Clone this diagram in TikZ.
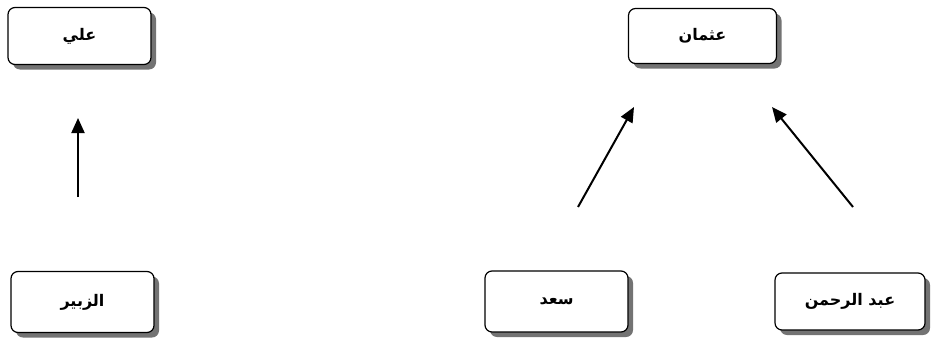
\documentclass[tikz,border=0pt]{standalone}
\usepackage{fontspec}
\TeXXeTstate=1
\newfontfamily\arabicfont[Script=Arabic]{DejaVu Sans}
\usetikzlibrary{arrows.meta,shadows}
\begin{document}
\begin{tikzpicture}[x=1pt,y=-1pt,
  boxnode/.style={draw=black, line width=1.2pt, rounded corners=7pt, fill=white,
    minimum width=143pt, minimum height=57pt,
    drop shadow={shadow xshift=5pt, shadow yshift=-5pt, fill=black!55, opacity=1},
    font=\arabicfont\bfseries\fontsize{16}{18}\selectfont},
  arr/.style={line width=2pt, -{Triangle[length=15pt,width=13pt]}}]
\useasboundingbox (0,0) rectangle (933,340);
\node[boxnode] (ali) at (79.5,36) {\beginR علي\endR};
\node[boxnode, minimum width=148pt, minimum height=55pt] (uthman) at (702.5,36) {\beginR عثمان\endR};
\node[boxnode, minimum height=61pt] (zubair) at (82.5,302) {\beginR الزبير\endR};
\node[boxnode, minimum height=61pt] (saad) at (556.5,301.5) {\beginR سعد\endR};
\node[boxnode, minimum width=150pt] (abd) at (850,301.5) {\beginR عبد الرحمن\endR};
\coordinate (a1s) at (78,197);
\coordinate (a1e) at (78,118);
\coordinate (a2s) at (578,207);
\coordinate (a2e) at (634,107);
\coordinate (a3s) at (853,207);
\coordinate (a3e) at (772,107);
\draw[arr] (a1s) -- (a1e);
\draw[arr] (a2s) -- (a2e);
\draw[arr] (a3s) -- (a3e);
\end{tikzpicture}
\end{document}
